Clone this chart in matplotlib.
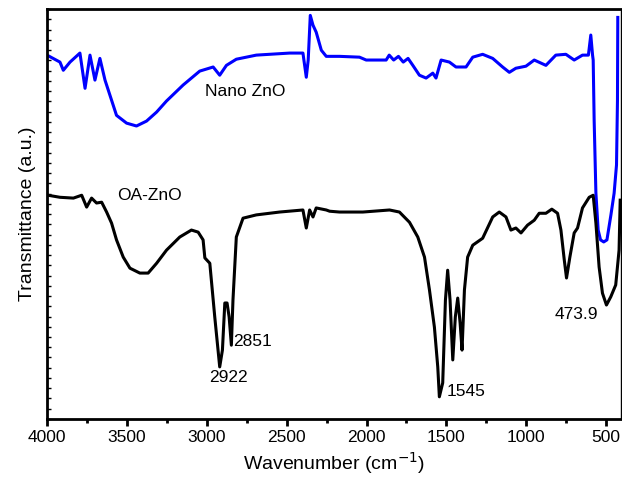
import numpy as np
import matplotlib
matplotlib.use("Agg")
import matplotlib.pyplot as plt
from matplotlib.ticker import MultipleLocator

plt.rcParams['font.family'] = ['Liberation Sans', 'DejaVu Sans']

#spectra (wavenumber in cm-1, transmittance in a.u.)
nano_wn = [4000, 3919, 3898, 3856, 3794, 3762, 3731, 3700, 3669, 3637, 3606, 3565,
           3502, 3440, 3377, 3314, 3252, 3148, 3044, 2960, 2919, 2877, 2815, 2690,
           2481, 2398, 2377, 2365, 2352, 2335, 2315, 2283, 2252, 2169, 2044, 2002,
           1877, 1858, 1830, 1800, 1770, 1740, 1710, 1669, 1627, 1585, 1565, 1533,
           1481, 1440, 1377, 1335, 1273, 1210, 1148, 1106, 1065, 1002, 950, 877,
           815, 752, 700, 648, 611, 596, 585, 581, 575, 564, 550, 535, 515, 495,
           470, 450, 435, 429, 427]
nano_t = [88.8, 87.1, 85.1, 87.1, 89.3, 80.7, 88.8, 82.7, 88.0, 82.7, 79.0, 74.1,
          72.2, 71.5, 72.7, 74.9, 77.6, 81.5, 84.9, 85.9, 83.9, 86.3, 87.8, 88.8,
          89.3, 89.3, 83.4, 87.6, 98.5, 96.1, 94.4, 90.0, 88.5, 88.5, 88.3, 87.6,
          87.6, 88.8, 87.6, 88.5, 87.1, 88.0, 86.3, 83.9, 83.2, 84.4, 83.2, 87.6,
          87.1, 85.9, 85.9, 88.3, 89.0, 88.0, 85.9, 84.6, 85.6, 86.1, 87.6, 86.3,
          88.8, 89.0, 87.6, 88.8, 88.8, 93.7, 88.8, 87.6, 72.9, 55.1, 46.1, 43.7,
          43.2, 43.7, 49.8, 55.1, 62.0, 77.8, 98.0]

oa_wn = [3994, 3919, 3835, 3783, 3752, 3721, 3690, 3658, 3627, 3596, 3565, 3523,
         3481, 3419, 3367, 3314, 3252, 3169, 3096, 3054, 3023, 3012, 2981, 2950,
         2919, 2902, 2887, 2873, 2860, 2846, 2836, 2815, 2773, 2690, 2544, 2398,
         2377, 2356, 2335, 2315, 2252, 2231, 2169, 2023, 1856, 1794, 1731, 1679,
         1637, 1606, 1575, 1554, 1544, 1523, 1506, 1492, 1477, 1460, 1444, 1429,
         1414, 1402, 1387, 1367, 1335, 1273, 1210, 1169, 1127, 1096, 1065, 1033,
         992, 950, 919, 877, 840, 804, 783, 762, 748, 727, 700, 679, 648, 606,
         581, 564, 544, 523, 498, 471, 440, 419, 412]
oa_t = [54.6, 54.1, 53.9, 54.6, 51.7, 53.9, 52.7, 52.9, 50.5, 47.8, 43.7, 39.5,
        36.8, 35.6, 35.6, 38.0, 41.2, 44.4, 46.1, 45.6, 43.7, 39.3, 38.0, 24.9,
        12.7, 16.8, 28.3, 28.3, 24.9, 18.0, 29.0, 44.4, 49.0, 49.8, 50.5, 51.0,
        46.6, 51.0, 49.3, 51.5, 51.0, 50.7, 50.5, 50.5, 51.0, 50.5, 48.0, 44.4,
        39.5, 31.5, 22.4, 12.7, 5.4, 8.8, 29.0, 36.3, 29.0, 14.4, 24.9, 29.5,
        23.4, 16.8, 31.5, 39.5, 42.4, 44.1, 49.3, 50.5, 49.3, 46.1, 46.6, 45.4,
        47.3, 48.5, 50.2, 50.2, 51.2, 50.2, 46.1, 38.8, 34.4, 39.5, 45.4, 46.6,
        51.5, 54.1, 54.6, 47.8, 37.1, 30.7, 27.8, 29.8, 32.7, 41.2, 53.4]

#text labels: (text, wavenumber of left edge, transmittance of centre)
labels = [("Nano ZnO", 3012, 79.8),
          ("OA-ZnO", 3562, 54.6),
          ("2922", 2987, 10.0),
          ("2851", 2837, 19.0),
          ("1545", 1500, 6.8),
          ("473.9", 825, 25.6)]

fig = plt.figure(figsize=(6.22, 4.86), dpi=100)
ax = fig.add_axes([0.0756, 0.138, 0.922, 0.843])

ax.plot(nano_wn, nano_t, color='#0000ff', lw=2.2)
ax.plot(oa_wn, oa_t, color='black', lw=2.2)

for txt, x, y in labels:
    ax.text(x, y, txt, fontsize=12.5, ha='left', va='center')

ax.set_xlim(4000, 410)
ax.set_ylim(0, 100)
ax.xaxis.set_major_locator(MultipleLocator(500))
ax.xaxis.set_minor_locator(MultipleLocator(250))
ax.yaxis.set_major_locator(MultipleLocator(2.5))
ax.tick_params(axis='x', which='major', direction='out', length=5, width=2, labelsize=12.5, pad=3)
ax.tick_params(axis='x', which='minor', direction='out', length=3, width=2)
ax.tick_params(axis='y', which='major', direction='in', length=3, width=1, labelleft=False)

for side in ['left', 'bottom', 'top']:
    ax.spines[side].set_linewidth(2)
ax.spines['right'].set_linewidth(1)

ax.set_xlabel("Wavenumber (cm$^{-1}$)", fontsize=14, labelpad=4)
ax.set_ylabel("Transmittance (a.u.)", fontsize=14, labelpad=8)

fig.savefig("out.png", dpi=100)
